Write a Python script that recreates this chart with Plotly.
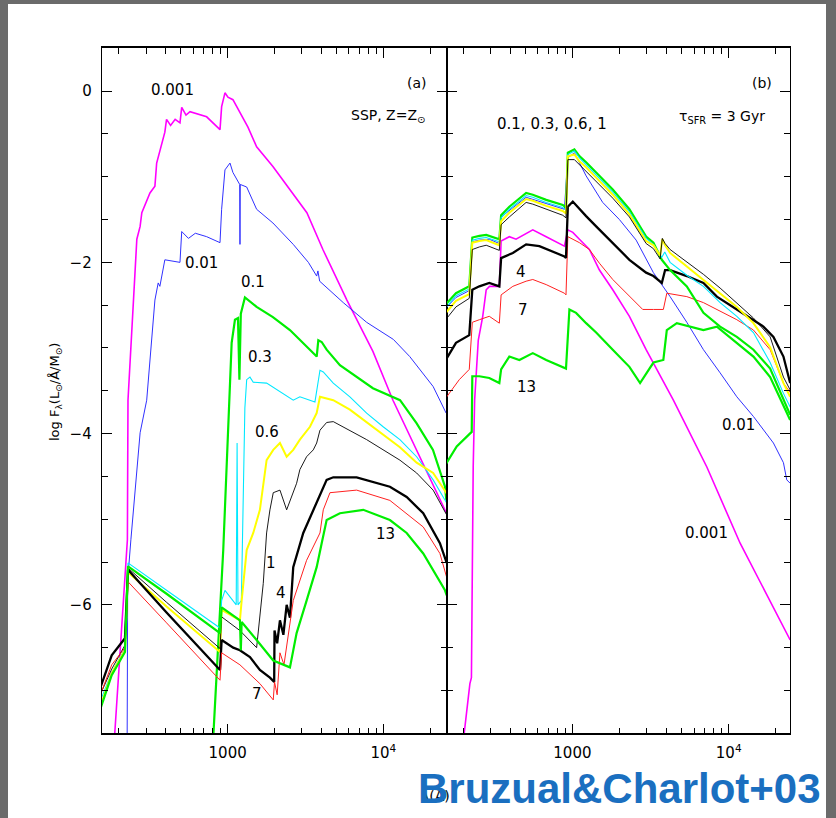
import plotly.graph_objects as go

# ---------------- Panel (a): SSP, Z = Zsun ----------------
a_age_0001_lam = [183, 227, 229, 254, 261, 274, 281, 317, 341, 350, 395, 405, 430, 460, 494, 507, 540, 573, 650, 733, 893, 915, 961, 1004, 1081, 1199, 1350, 1535, 1953, 3228, 4090, 5834, 8570, 11530, 25300]
a_age_0001_f = [-7.85, -5.24, -3.61, -2.12, -1.73, -1.58, -1.42, -1.19, -1.11, -0.84, -0.48, -0.33, -0.40, -0.33, -0.37, -0.19, -0.28, -0.24, -0.27, -0.30, -0.45, -0.18, -0.02, -0.07, -0.10, -0.25, -0.42, -0.65, -0.88, -1.42, -1.85, -2.44, -3.04, -3.61, -4.92]

a_age_001_lam = [226, 228, 239, 258, 274, 302, 325, 341, 358, 367, 395, 494, 507, 560, 620, 733, 893, 915, 961, 1035, 1081, 1142, 1195, 1200, 1205, 1325, 1535, 1953, 2638, 3300, 3730, 3800, 3900, 5530, 7812, 11600, 14780, 20890, 25300]
a_age_001_f = [-7.8, -5.71, -5.24, -4.58, -3.99, -3.61, -2.90, -2.44, -2.24, -2.28, -1.97, -2.00, -1.64, -1.72, -1.66, -1.70, -1.77, -1.38, -0.92, -0.84, -0.95, -1.03, -1.09, -1.79, -1.09, -1.12, -1.38, -1.54, -1.79, -2.00, -2.16, -2.10, -2.22, -2.47, -2.70, -2.90, -3.10, -3.45, -3.76]

a_age_01_lam = [800, 937, 1061, 1114, 1165, 1190, 1215, 1259, 1291, 1535, 1953, 2512, 3212, 3733, 3822, 4018, 4325, 5260, 8570, 12800, 16370, 20840, 24900, 25400]
a_age_01_f = [-7.7, -5.36, -2.94, -2.67, -2.65, -3.37, -2.60, -2.47, -2.41, -2.52, -2.64, -2.79, -2.99, -3.10, -2.91, -2.93, -3.02, -3.20, -3.47, -3.61, -3.88, -4.19, -4.62, -4.78]

a_age_03_lam = [150, 180, 219, 229, 405, 893, 915, 961, 1135, 1150, 1165, 1225, 1290, 1325, 1391, 1460, 1779, 2276, 2638, 2911, 3378, 3637, 3918, 4113, 4769, 6098, 7812, 9970, 12780, 16370, 20890, 25530]
a_age_03_f = [-7.15, -6.79, -6.51, -5.51, -5.83, -6.27, -5.95, -5.83, -6.00, -4.11, -6.00, -5.95, -3.70, -3.37, -3.34, -3.40, -3.41, -3.53, -3.61, -3.57, -3.61, -3.63, -3.26, -3.28, -3.41, -3.57, -3.76, -3.92, -4.07, -4.27, -4.54, -4.81]

a_age_06_lam = [150, 180, 219, 229, 405, 893, 915, 1199, 1230, 1325, 1460, 1611, 1779, 1963, 2167, 2393, 2638, 2911, 3378, 3730, 3918, 4769, 6098, 7812, 12780, 16370, 20890, 25530]
a_age_06_f = [-7.22, -6.80, -6.53, -5.62, -6.02, -6.55, -6.06, -6.18, -5.95, -5.36, -5.16, -4.89, -4.31, -4.19, -4.11, -4.27, -4.19, -4.07, -3.92, -3.76, -3.57, -3.61, -3.72, -3.87, -4.16, -4.34, -4.46, -4.70]

a_age_1_lam = [150, 180, 219, 229, 405, 893, 915, 1199, 1535, 1693, 1779, 1869, 1963, 2167, 2393, 2638, 2773, 2911, 3214, 3548, 3730, 3918, 4324, 4769, 6098, 7812, 12780, 16370, 20890, 25530]
a_age_1_f = [-7.07, -6.75, -6.47, -5.57, -5.97, -6.51, -6.14, -6.30, -6.50, -5.75, -5.16, -4.89, -4.69, -4.66, -4.89, -4.69, -4.58, -4.42, -4.27, -4.19, -4.11, -3.96, -3.87, -3.86, -3.96, -4.07, -4.31, -4.46, -4.66, -4.95]

a_age_4_lam = [150, 180, 219, 229, 405, 893, 915, 1086, 1199, 1391, 1611, 1869, 1990, 2000, 2080, 2167, 2280, 2393, 2513, 2638, 3060, 3548, 4018, 4324, 4769, 6738, 11020, 14120, 18040, 23090, 25530]
a_age_4_f = [-7.00, -6.59, -6.39, -5.59, -6.09, -6.76, -6.41, -6.50, -6.53, -6.61, -6.76, -6.85, -6.90, -6.30, -6.45, -6.18, -6.35, -6.00, -6.15, -5.56, -5.16, -4.89, -4.66, -4.54, -4.51, -4.51, -4.62, -4.74, -4.93, -5.28, -5.51]

a_age_7_lam = [150, 180, 219, 229, 405, 893, 915, 1199, 1611, 1963, 2000, 2080, 2167, 2300, 2638, 3214, 3918, 4113, 4541, 6738, 11020, 18040, 23090, 25530]
a_age_7_f = [-7.08, -6.70, -6.50, -5.73, -6.21, -6.88, -6.56, -6.70, -6.92, -7.11, -6.90, -7.05, -6.56, -6.70, -5.95, -5.48, -5.16, -4.89, -4.69, -4.66, -4.78, -5.09, -5.40, -5.68]

a_age_13_lam = [150, 180, 219, 229, 405, 893, 915, 1199, 1215, 1230, 1535, 1963, 2513, 2773, 3214, 3730, 4018, 4324, 5262, 7431, 11020, 14120, 18040, 24890, 25530]
a_age_13_f = [-7.25, -6.82, -6.55, -5.55, -5.87, -6.33, -6.03, -6.18, -6.53, -6.20, -6.41, -6.65, -6.73, -6.33, -5.95, -5.56, -5.28, -5.01, -4.93, -4.89, -5.01, -5.16, -5.40, -5.83, -5.89]

# ---------------- Panel (b): tau_SFR = 3 Gyr ----------------
b_age_0001_lam = [194, 221, 226, 232, 237, 250, 267, 281, 295, 341, 350, 395, 436, 558, 680, 889, 935, 1006, 1109, 1285, 1489, 1812, 2316, 2963, 4426, 7245, 11830, 19320, 24720]
b_age_0001_f = [-7.82, -6.92, -6.85, -4.39, -3.61, -2.91, -2.63, -2.32, -2.28, -2.28, -1.75, -1.70, -1.73, -1.62, -1.70, -1.81, -1.62, -1.65, -1.73, -1.85, -2.09, -2.32, -2.63, -3.02, -3.61, -4.39, -5.28, -6.02, -6.41]

b_age_001_lam = [150, 180, 219, 229, 254, 294, 341, 350, 506, 889, 935, 1030, 1224, 1563, 1999, 2557, 3297, 4217, 5395, 6891, 8808, 11270, 14390, 19320, 22390, 23510, 24720]
b_age_001_f = [-2.56, -2.41, -2.33, -1.76, -1.74, -1.73, -1.78, -1.47, -1.24, -1.38, -0.78, -0.72, -0.99, -1.30, -1.50, -1.74, -2.12, -2.40, -2.70, -3.02, -3.29, -3.57, -3.80, -4.11, -4.34, -4.54, -4.58]

b_uv_lam = [150, 180, 219, 229, 254, 281, 341, 350, 395, 506, 558, 680, 868, 910, 935, 1030, 1109, 1224, 1419, 1812, 2316, 2963, 3300]

b_age_01_lam = b_uv_lam + [3733, 4217, 5395, 6891, 8808, 11270, 14390, 18410, 22390, 24720]
b_age_01_f = [-2.52, -2.36, -2.28, -1.71, -1.69, -1.68, -1.73, -1.45, -1.35, -1.19, -1.21, -1.27, -1.33, -1.36, -0.72, -0.68, -0.76, -0.83, -0.95, -1.15, -1.38, -1.70, -1.77,
              -1.97, -2.09, -2.28, -2.59, -2.75, -2.87, -3.02, -3.24, -3.61, -3.78]

b_age_03_lam = b_uv_lam + [3733, 3900, 4217, 5395, 6891, 8808, 11270, 14390, 18410, 22390, 24720]
b_age_03_f = [-2.56, -2.39, -2.31, -1.74, -1.72, -1.71, -1.76, -1.48, -1.38, -1.22, -1.24, -1.30, -1.36, -1.39, -0.74, -0.70, -0.78, -0.86, -0.98, -1.18, -1.41, -1.72, -1.79,
              -1.94, -1.88, -2.00, -2.15, -2.28, -2.47, -2.63, -2.82, -3.17, -3.53, -3.69]

b_age_06_lam = b_uv_lam + [3640, 3760, 3918, 4217, 5395, 6891, 8808, 11270, 14390, 18410, 22390, 24720]
b_age_06_f = [-2.62, -2.45, -2.37, -1.77, -1.75, -1.74, -1.80, -1.52, -1.42, -1.26, -1.28, -1.34, -1.40, -1.43, -0.76, -0.74, -0.82, -0.89, -1.01, -1.21, -1.44, -1.75, -1.80,
              -1.92, -1.73, -1.80, -1.89, -2.05, -2.20, -2.36, -2.52, -2.71, -2.99, -3.41, -3.57]

b_age_1_lam = b_uv_lam + [3640, 3760, 3918, 4217, 5395, 6891, 8808, 11270, 14390, 18410, 22390, 24720]
b_age_1_f = [-2.70, -2.52, -2.42, -1.85, -1.82, -1.80, -1.86, -1.56, -1.47, -1.30, -1.32, -1.38, -1.45, -1.48, -0.80, -0.80, -0.86, -0.93, -1.05, -1.25, -1.47, -1.78, -1.84,
             -1.96, -1.72, -1.78, -1.85, -1.99, -2.14, -2.30, -2.47, -2.65, -2.87, -3.34, -3.49]

b_age_4_lam = [150, 180, 219, 229, 254, 294, 341, 350, 416, 506, 615, 750, 889, 910, 935, 1006, 1109, 1224, 1419, 1812, 2316, 2963, 3300, 3733, 3918, 4217, 5395, 6891, 8398, 11270, 14390, 16670, 19320, 22390, 24720]
b_age_4_f = [-3.18, -2.94, -2.85, -2.32, -2.28, -2.24, -2.28, -1.95, -1.89, -1.79, -1.81, -1.87, -1.93, -1.95, -1.35, -1.29, -1.38, -1.46, -1.58, -1.77, -1.97, -2.12, -2.16, -2.24, -2.09, -2.09, -2.16, -2.24, -2.40, -2.55, -2.67, -2.75, -2.87, -3.10, -3.41]

b_age_7_lam = [150, 189, 219, 229, 254, 294, 341, 350, 416, 506, 558, 680, 889, 910, 935, 1006, 1109, 1285, 1489, 1812, 2316, 2818, 3300, 3818, 4017, 5395, 6891, 8398, 11270, 14390, 18410, 22390, 24720]
b_age_7_f = [-3.62, -3.37, -3.25, -2.70, -2.67, -2.63, -2.71, -2.38, -2.28, -2.22, -2.20, -2.26, -2.36, -2.38, -1.70, -1.73, -1.77, -1.85, -2.01, -2.20, -2.40, -2.55, -2.55, -2.55, -2.36, -2.40, -2.47, -2.55, -2.67, -2.79, -3.02, -3.41, -3.52]

b_age_13_lam = [150, 182, 221, 227, 229, 254, 294, 341, 350, 395, 458, 558, 680, 868, 910, 957, 1056, 1224, 1419, 1812, 2316, 2710, 3300, 3818, 4017, 4656, 6891, 8398, 11270, 14390, 18410, 22390, 24720]
b_age_13_f = [-4.40, -4.15, -4.00, -3.98, -3.33, -3.33, -3.35, -3.41, -3.25, -3.10, -3.14, -3.06, -3.14, -3.22, -3.24, -2.55, -2.59, -2.71, -2.82, -3.02, -3.22, -3.41, -3.17, -3.14, -2.79, -2.71, -2.79, -2.75, -2.94, -3.10, -3.34, -3.67, -3.84]

# tick labels
x_major = [1000, 10000]
x_major_text = ["1000", "10<sup>4</sup>"]
x_minor = [200, 300, 400, 500, 600, 700, 800, 900, 2000, 3000, 4000, 5000, 6000, 7000, 8000, 9000, 20000]
y_major = [0, -2, -4, -6]
y_major_text = ["0", "\u22122", "\u22124", "\u22126"]
y_minor = [0.5, -0.5, -1, -1.5, -2.5, -3, -3.5, -4.5, -5, -5.5, -6.5, -7, -7.5]

MAG, BLU, GRN, CYA, YEL, BLK, RED = "#ff00ff", "#3030ff", "#00ee00", "#00e8ff", "#ffff00", "#000000", "#ff2020"

panel_a = [
    (a_age_0001_lam, a_age_0001_f, MAG, 1.6),
    (a_age_001_lam, a_age_001_f, BLU, 1.0),
    (a_age_01_lam, a_age_01_f, GRN, 2.2),
    (a_age_03_lam, a_age_03_f, CYA, 1.1),
    (a_age_06_lam, a_age_06_f, YEL, 2.0),
    (a_age_1_lam, a_age_1_f, BLK, 0.9),
    (a_age_4_lam, a_age_4_f, BLK, 2.3),
    (a_age_7_lam, a_age_7_f, RED, 1.0),
    (a_age_13_lam, a_age_13_f, GRN, 2.2),
]
panel_b = [
    (b_age_001_lam, b_age_001_f, BLU, 1.0),
    (b_age_0001_lam, b_age_0001_f, MAG, 1.6),
    (b_age_13_lam, b_age_13_f, GRN, 2.2),
    (b_age_7_lam, b_age_7_f, RED, 1.0),
    (b_age_4_lam, b_age_4_f, BLK, 2.3),
    (b_age_01_lam, b_age_01_f, GRN, 2.2),
    (b_age_03_lam, b_age_03_f, CYA, 1.1),
    (b_age_06_lam, b_age_06_f, YEL, 2.0),
    (b_age_1_lam, b_age_1_f, BLK, 0.9),
]

fig = go.Figure()
for lam, f, c, w in panel_a:
    fig.add_trace(go.Scatter(x=lam, y=f, mode="lines", line=dict(color=c, width=w),
                             xaxis="x", yaxis="y", hoverinfo="skip", showlegend=False))
for lam, f, c, w in panel_b:
    fig.add_trace(go.Scatter(x=lam, y=f, mode="lines", line=dict(color=c, width=w),
                             xaxis="x2", yaxis="y2", hoverinfo="skip", showlegend=False))

W, H = 836, 818
def px(x):
    return x / W
def py(y):
    return 1 - y / H

FONT = "DejaVu Sans"
common_x = dict(type="log", showline=True, linecolor="black", linewidth=1.5, mirror="ticks",
                ticks="inside", ticklen=10, tickwidth=1.2, tickcolor="black",
                tickvals=x_major, ticktext=x_major_text, showgrid=False, zeroline=False,
                tickfont=dict(family=FONT, size=15, color="black"), ticklabelstandoff=5,
                minor=dict(tickvals=x_minor, ticks="inside", ticklen=6, tickwidth=1, tickcolor="black", showgrid=False))
common_y = dict(range=[-7.5, 0.5], showline=True, linecolor="black", linewidth=1.0, mirror="ticks",
                ticks="inside", ticklen=10, tickwidth=1.2, tickcolor="black",
                tickvals=y_major, ticktext=y_major_text, showgrid=False, zeroline=False,
                tickfont=dict(family=FONT, size=15, color="black"),
                minor=dict(tickvals=y_minor, ticks="inside", ticklen=6, tickwidth=1, tickcolor="black", showgrid=False),
                domain=[py(733.3), py(48.3)])

fig.update_layout(
    width=W, height=H, margin=dict(l=0, r=0, t=0, b=0),
    paper_bgcolor="#6b6b6b", plot_bgcolor="white", showlegend=False,
    xaxis=dict(common_x, domain=[px(101.7), px(446.7)], range=[2.191, 4.407], anchor="y"),
    xaxis2=dict(common_x, domain=[px(446.7), px(790)], range=[2.196, 4.392], anchor="y2"),
    yaxis=dict(common_y, anchor="x", ticklabelstandoff=6),
    yaxis2=dict(common_y, anchor="x2", showticklabels=False),
)

fig.add_shape(type="rect", xref="paper", yref="paper", x0=px(8), x1=px(826), y0=0, y1=py(4),
              fillcolor="white", line=dict(width=0), layer="below")

def ann(text, x, y, size=15, color="black", family=FONT, **kw):
    fig.add_annotation(text=text, x=px(x), y=py(y), xref="paper", yref="paper", showarrow=False,
                       font=dict(family=family, size=size, color=color), xanchor="center", yanchor="middle", **kw)

# panel (a) labels
ann("0.001", 172, 90)
ann("0.01", 201, 263)
ann("0.1", 253, 282)
ann("0.3", 260, 357)
ann("0.6", 267, 432)
ann("1", 271, 563)
ann("4", 281, 593)
ann("7", 257, 694)
ann("13", 385, 534)
ann("(a)", 417, 83, size=14)
ann("SSP, Z=Z<sub>\u2299</sub>", 388, 116, size=14)
# panel (b) labels
ann("(b)", 762, 83, size=14)
ann("\u03c4<sub>SFR</sub> = 3 Gyr", 722, 117, size=14)
ann("0.1, 0.3, 0.6, 1", 552, 124, size=15)
ann("4", 521, 272)
ann("7", 523, 310)
ann("13", 526, 387)
ann("0.01", 738, 425)
ann("0.001", 706, 533)
# axis titles
ann("log F<sub>\u03bb</sub>(L<sub>\u2299</sub>/\u00c5/M<sub>\u2299</sub>)", 55, 392, size=13, textangle=-90)
ann("\u03bb(\u00c5)", 436, 796, size=14)
# overlay credit (drawn on top of the axis title, as in the reference)
ann("<b>Bruzual&amp;Charlot+03</b>", 619, 788, size=42, color="#1a6fc0", family="Liberation Sans")

fig.write_html("out.html")
